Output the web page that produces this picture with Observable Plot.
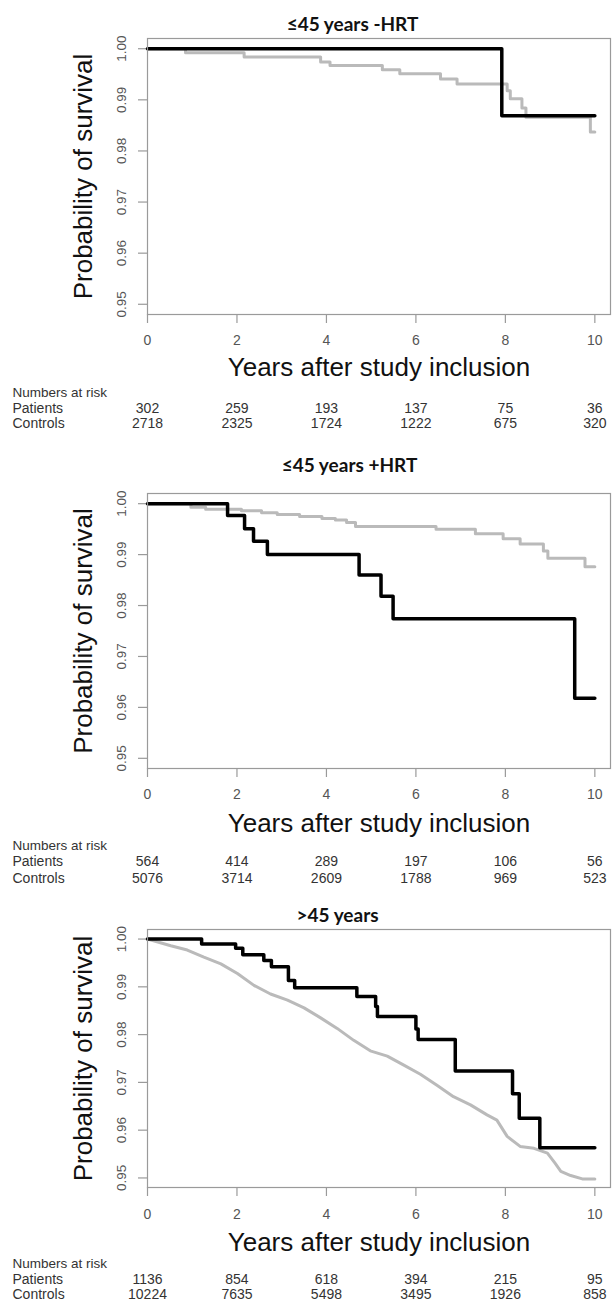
<!DOCTYPE html>
<html>
<head>
<meta charset="utf-8">
<script src="https://cdn.jsdelivr.net/npm/d3@7"></script>
<script src="https://cdn.jsdelivr.net/npm/@observablehq/plot@0.6"></script>
<style>
  body { margin: 0; background: #fff; }
  #chart { width: 613px; }
  #chart svg { display: block; }
</style>
</head>
<body>
<div id="chart"></div>
<script>
// ---------- data ----------
const panelTitles = ["≤45 years -HRT", "≤45 years +HRT", ">45 years"];
const xLabel = "Years after study inclusion";
const yLabel = "Probability of survival";
const xTicks = [0, 2, 4, 6, 8, 10];
const yTicks = [0.95, 0.96, 0.97, 0.98, 0.99, 1.00];
const riskTimes = [0, 2, 4, 6, 8, 10];
const riskRowLabels = ["Numbers at risk", "Patients", "Controls"];

const riskPatients1 = [302, 259, 193, 137, 75, 36];
const riskControls1 = [2718, 2325, 1724, 1222, 675, 320];
const riskPatients2 = [564, 414, 289, 197, 106, 56];
const riskControls2 = [5076, 3714, 2609, 1788, 969, 523];
const riskPatients3 = [1136, 854, 618, 394, 215, 95];
const riskControls3 = [10224, 7635, 5498, 3495, 1926, 858];

// survival curves [years, probability]
const patients1 = [[0, 1], [7.92, 0.9869], [10, 0.9869]];
const controls1 = [[0, 1], [0.85, 0.9992], [2.16, 0.9984], [3.87, 0.9974], [4.08, 0.9967],
  [5.25, 0.9959], [5.64, 0.9951], [6.55, 0.9941], [6.92, 0.9931], [8.04, 0.9918],
  [8.11, 0.9902], [8.37, 0.9884], [8.46, 0.9866], [9.9, 0.9837], [10, 0.9837]];

const patients2 = [[0, 1], [1.79, 0.9977], [2.17, 0.9951], [2.37, 0.9926], [2.68, 0.9900],
  [4.73, 0.9860], [5.22, 0.9818], [5.49, 0.9774], [9.55, 0.9618], [10, 0.9618]];
const controls2 = [[0, 1], [0.97, 0.9993], [1.3, 0.9989], [2.1, 0.9986], [2.55, 0.9982],
  [2.9, 0.9979], [3.4, 0.9975], [3.9, 0.9971], [4.2, 0.9968], [4.45, 0.9963], [4.65, 0.9955],
  [6.45, 0.9950], [7.33, 0.9941], [7.95, 0.9931], [8.33, 0.9921], [8.85, 0.9907],
  [8.95, 0.9893], [9.78, 0.9876], [10, 0.9876]];

const patients3 = [[0, 1], [1.21, 0.99895], [1.97, 0.9981], [2.13, 0.9967], [2.6, 0.9955],
  [2.77, 0.9942], [3.15, 0.9913], [3.29, 0.9898], [4.68, 0.9880], [5.1, 0.9859],
  [5.14, 0.9838], [6.0, 0.9812], [6.05, 0.9790], [6.88, 0.9724], [8.16, 0.9676],
  [8.31, 0.9625], [8.77, 0.9563], [10, 0.9563]];
const controls3 = [[0, 1], [0.52, 0.9986], [0.89, 0.9977], [1.26, 0.9962], [1.64, 0.9948],
  [2.01, 0.9928], [2.38, 0.9903], [2.75, 0.9885], [3.13, 0.9872], [3.5, 0.9856],
  [3.87, 0.9835], [4.24, 0.9813], [4.61, 0.9788], [4.98, 0.9766], [5.36, 0.9755],
  [5.73, 0.9736], [6.1, 0.9717], [6.47, 0.9694], [6.84, 0.9670], [7.22, 0.9653],
  [7.59, 0.9632], [7.81, 0.9621], [8.04, 0.9587], [8.33, 0.9566], [8.64, 0.9562],
  [8.94, 0.9552], [9.11, 0.9531], [9.24, 0.9514], [9.46, 0.9505], [9.72, 0.9498],
  [10, 0.9498]];

// ---------- drawing ----------
const FONT = "'Liberation Sans', Arial, sans-serif";
const W = 613, ML = 147, MR = 3;
const frameCenter = ML + (W - ML - MR) / 2;

function panel(o) {
  return Plot.plot({
    width: W, height: o.height,
    marginTop: o.mt, marginBottom: o.mb, marginLeft: ML, marginRight: MR,
    x: { domain: [0, 10.35] },
    y: { domain: [0.948, 1.002] },
    style: { fontFamily: FONT, background: "white", overflow: "visible" },
    marks: [
      Plot.axisX({ ticks: xTicks, tickSize: 9, tickFormat: () => "", label: null, stroke: "#9a9a9a", strokeWidth: 1.2 }),
      Plot.axisY({ ticks: yTicks, tickSize: 9, tickFormat: () => "", label: null, stroke: "#9a9a9a", strokeWidth: 1.2 }),
      Plot.text(xTicks, { x: d => d, text: d => String(d), frameAnchor: "bottom", dy: o.tickDy, lineAnchor: "middle", fontSize: 14, fill: "#555" }),
      Plot.text(yTicks, { y: d => d, text: d => d.toFixed(2), frameAnchor: "left", dx: -26, rotate: -90, textAnchor: "middle", lineAnchor: "middle", fontSize: 13.5, fill: "#555" }),
      Plot.line(o.controls, { x: d => d[0], y: d => d[1], curve: o.controlsCurve, stroke: "#bababa", strokeWidth: 3 }),
      Plot.line(o.patients, { x: d => d[0], y: d => d[1], curve: "step-after", stroke: "#000", strokeWidth: 3.5 }),
      Plot.frame({ stroke: "#9a9a9a", strokeWidth: 1.2 }),
      Plot.text([o.title], { frameAnchor: "top", dx: o.titleX - frameCenter, dy: o.titleDy, lineAnchor: "middle", fontFamily: "Lato, 'Open Sans', sans-serif", fontWeight: "bold", fontSize: 19, fill: "#111" }),
      Plot.text([yLabel], { frameAnchor: "left", dx: -64, rotate: -90, textAnchor: "middle", lineAnchor: "middle", fontSize: 26, fill: "#111" }),
      Plot.text([xLabel], { frameAnchor: "bottom", dy: o.xlabDy, lineAnchor: "middle", fontSize: 26, fill: "#111" }),
      Plot.text([riskRowLabels[0]], { frameAnchor: "bottom-left", dx: 12 - ML, dy: o.riskDy[0], textAnchor: "start", lineAnchor: "middle", fontSize: 13.5, fill: "#333" }),
      Plot.text([riskRowLabels[1]], { frameAnchor: "bottom-left", dx: 12 - ML, dy: o.riskDy[1], textAnchor: "start", lineAnchor: "middle", fontSize: 14, fill: "#333" }),
      Plot.text([riskRowLabels[2]], { frameAnchor: "bottom-left", dx: 12 - ML, dy: o.riskDy[2], textAnchor: "start", lineAnchor: "middle", fontSize: 14, fill: "#333" }),
      Plot.text(riskTimes, { x: d => d, text: (d, i) => String(o.riskP[i]), frameAnchor: "bottom", dy: o.riskDy[1], lineAnchor: "middle", fontSize: 14, fill: "#333" }),
      Plot.text(riskTimes, { x: d => d, text: (d, i) => String(o.riskC[i]), frameAnchor: "bottom", dy: o.riskDy[2], lineAnchor: "middle", fontSize: 14, fill: "#333" })
    ]
  });
}

const chart = document.getElementById("chart");
chart.append(panel({
  height: 440, mt: 38, mb: 126, title: panelTitles[0], titleX: 352, titleDy: -14,
  tickDy: 26, xlabDy: 53, riskDy: [78, 94, 109],
  patients: patients1, controls: controls1, controlsCurve: "step-after",
  riskP: riskPatients1, riskC: riskControls1
}));
chart.append(panel({
  height: 450, mt: 53, mb: 122, title: panelTitles[1], titleX: 349, titleDy: -28,
  tickDy: 26, xlabDy: 55, riskDy: [77, 93, 110],
  patients: patients2, controls: controls2, controlsCurve: "step-after",
  riskP: riskPatients2, riskC: riskControls2
}));
chart.append(panel({
  height: 410, mt: 39, mb: 113, title: panelTitles[2], titleX: 337, titleDy: -14,
  tickDy: 27, xlabDy: 55, riskDy: [76, 92, 107],
  patients: patients3, controls: controls3, controlsCurve: "linear",
  riskP: riskPatients3, riskC: riskControls3
}));
</script>
</body>
</html>
